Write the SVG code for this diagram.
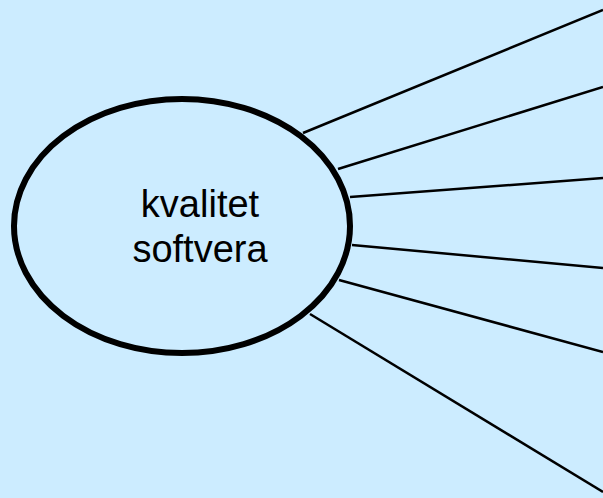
<svg xmlns="http://www.w3.org/2000/svg" width="603" height="498" viewBox="0 0 603 498">
<style>
.bg{fill:#CCECFF}
.node{fill:#CCECFF;stroke:#000;stroke-width:6}
.lbl{font-family:"Liberation Sans",Arial,sans-serif;font-size:38px;fill:#000;text-anchor:middle}
.conn line{stroke:#000;stroke-width:2.5}
</style>
<rect class="bg" x="0" y="0" width="603" height="498"/>
<g id="connectors" class="conn">
<line x1="303" y1="133" x2="603" y2="10"/>
<line x1="338" y1="169" x2="603" y2="87"/>
<line x1="350" y1="197" x2="603" y2="178"/>
<line x1="352" y1="245" x2="603" y2="268"/>
<line x1="339" y1="280" x2="603" y2="352"/>
<line x1="310" y1="314" x2="603" y2="492"/>
</g>
<g id="kvalitet-softvera">
<ellipse class="node" cx="182" cy="226" rx="168" ry="127"/>
<text class="lbl" x="200" y="217">kvalitet</text>
<text class="lbl" x="200" y="262">softvera</text>
</g>
</svg>
